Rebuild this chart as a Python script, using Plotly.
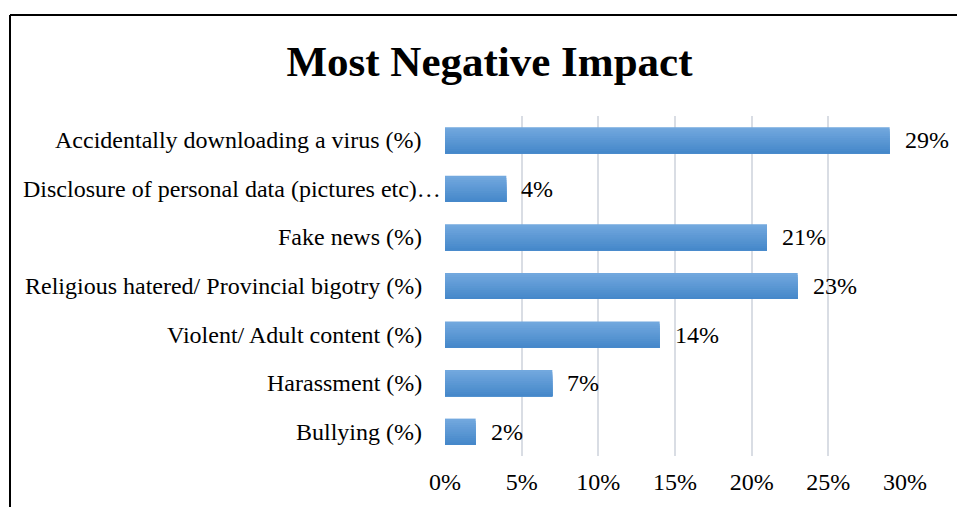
import plotly.graph_objects as go

# Categories listed top to bottom
categories = [
    "Accidentally downloading a virus (%)",
    "Disclosure of personal data (pictures etc)…",
    "Fake news (%)",
    "Religious hatered/ Provincial bigotry (%)",
    "Violent/ Adult content (%)",
    "Harassment (%)",
    "Bullying (%)",
]
values = [29, 4, 21, 23, 14, 7, 2]
x_ticks = [0, 5, 10, 15, 20, 25, 30]
x_tick_labels = ["0%", "5%", "10%", "15%", "20%", "25%", "30%"]

W, H = 957, 507
ML, MR, MT, MB = 445, 52, 116, 51

FONT = "Liberation Serif, Times New Roman, serif"
TEXT_COLOR = "#000000"

BAR_WIDTH = 0.54
TOP_RGB = (114, 168, 222)
BOTTOM_RGB = (70, 136, 202)
N_STRIPS = 12

fig = go.Figure()

# Bars with a vertical light-to-dark gradient: each layer starts a little lower
# and runs to the bottom edge, so the darker layers cover the lower part.
strip = BAR_WIDTH / N_STRIPS
for i in range(N_STRIPS):
    t = i / (N_STRIPS - 1)
    r, g, b = (round(a + (c - a) * t) for a, c in zip(TOP_RGB, BOTTOM_RGB))
    fig.add_trace(
        go.Bar(
            x=values,
            y=categories,
            orientation="h",
            width=BAR_WIDTH - i * strip,
            offset=-BAR_WIDTH / 2 + i * strip,
            marker=dict(color=f"rgb({r},{g},{b})", line=dict(width=0)),
            hoverinfo="skip",
        )
    )

# Value labels placed just beyond the end of each bar
for cat, v in zip(categories, values):
    fig.add_annotation(
        x=v, y=cat, xref="x", yref="y",
        text=f"{v}%",
        showarrow=False,
        xanchor="left",
        xshift=13,
        font=dict(family=FONT, size=24, color=TEXT_COLOR),
    )

# Category labels, right-aligned left of the axis; the truncated one runs closer
for cat in categories:
    fig.add_annotation(
        x=0, y=cat, xref="x", yref="y",
        text=cat,
        showarrow=False,
        xanchor="right",
        xshift=-2 if cat.endswith("…") else -21,
        font=dict(family=FONT, size=24, color=TEXT_COLOR),
    )

# Outer chart frame (left and top edges visible within the canvas)
pw, ph = W - ML - MR, H - MT - MB
def px_x(p):
    return (p - ML) / pw
def px_y(p):
    return (H - MB - p) / ph

frame = dict(color="#000000", width=2)
fig.add_shape(type="line", xref="paper", yref="paper",
              x0=px_x(10), x1=px_x(10), y0=px_y(15), y1=px_y(H + 5), line=frame)
fig.add_shape(type="line", xref="paper", yref="paper",
              x0=px_x(10), x1=px_x(W + 5), y0=px_y(15), y1=px_y(15), line=frame)

fig.update_layout(
    width=W,
    height=H,
    margin=dict(l=ML, r=MR, t=MT, b=MB, autoexpand=False),
    paper_bgcolor="white",
    plot_bgcolor="white",
    barmode="overlay",
    showlegend=False,
    title=dict(
        text="<b>Most Negative Impact</b>",
        x=489.5 / W,
        xanchor="center",
        xref="container",
        y=1 - 61 / H,
        yanchor="middle",
        yref="container",
        font=dict(family=FONT, size=43, color=TEXT_COLOR),
    ),
    xaxis=dict(
        range=[0, 30],
        tickvals=x_ticks,
        ticktext=x_tick_labels,
        showgrid=True,
        gridcolor="#d9dde4",
        gridwidth=1.5,
        zeroline=False,
        showline=False,
        ticks="",
        tickfont=dict(family=FONT, size=24, color=TEXT_COLOR),
        ticklabelstandoff=9,
        automargin=False,
        fixedrange=True,
    ),
    yaxis=dict(
        categoryorder="array",
        categoryarray=categories,
        autorange="reversed",
        showgrid=False,
        zeroline=False,
        showline=False,
        ticks="",
        showticklabels=False,
        automargin=False,
        fixedrange=True,
    ),
    font=dict(family=FONT),
)

fig.write_html("out.html")
